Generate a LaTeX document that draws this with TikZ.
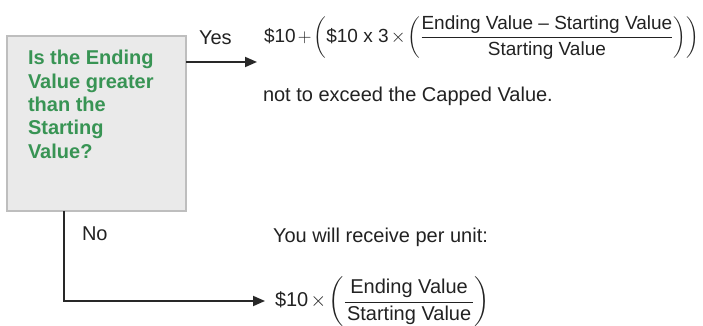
\RequirePackage{fix-cm}
\documentclass[tikz,border=0pt]{standalone}
\usepackage{amsmath}
\usepackage{fontspec}
\setmainfont{Liberation Sans}
\usetikzlibrary{arrows.meta}

\begin{document}
\begin{tikzpicture}[x=1pt,y=1pt,
  txt/.style={text=textColor,inner sep=0pt,outer sep=0pt,font=\fontsize{20}{23}\selectfont},
  formula/.style={txt,font=\fontsize{#1}{23}\selectfont},
  conn/.style={draw=lineColor,line width=1.8pt,-{Triangle[length=12pt,width=10pt]}}]
\definecolor{fillColor}{RGB}{255,255,255}
\definecolor{boxColor}{RGB}{234,234,234}
\definecolor{borderColor}{RGB}{190,190,190}
\definecolor{greenColor}{RGB}{56,148,84}
\definecolor{textColor}{RGB}{34,34,34}
\definecolor{lineColor}{RGB}{40,40,40}
\path[use as bounding box,fill=fillColor] (0,0) rectangle (703,326);

\node[draw=borderColor,fill=boxColor,line width=1.2pt,minimum width=179pt,minimum height=175pt,inner sep=0pt,outer sep=0pt] (question) at ( 96.50,202.50) {};

\node[txt,text=greenColor,font=\fontsize{20}{23.3}\selectfont\bfseries,align=left,anchor=north west] (questiontext) at ( 28.00,275.50) {Is the Ending\\Value greater\\than the\\Starting\\Value?};

\node[txt,anchor=base west] (yeslabel) at (199.00,281.00) {Yes};

\node[txt,anchor=base west] (nolabel) at ( 82.00, 85.00) {No};

\node[formula=19,anchor=base west] (yesformula) at (264.00,283.50) {$\medmuskip=2mu\relax\displaystyle \text{\$10} + \left(\text{\$10 x 3} \times \left(\frac{\text{Ending Value -- Starting Value}}{\text{Starting Value}}\right)\right)$};

\node[txt,anchor=base west] (capnote) at (263.00,224.00) {not to exceed the Capped Value.};

\node[txt,anchor=base west] (receivenote) at (273.00, 83.00) {You will receive per unit:};

\node[formula=20,anchor=base west] (noformula) at (275.00, 19.00) {$\medmuskip=2mu\relax\displaystyle \text{\$10} \times \left(\frac{\mkern2mu\text{Ending Value}\mkern2mu}{\mkern2mu\text{Starting Value}\mkern2mu}\right)$};

\coordinate (yesend) at (257.00,264.00);
\coordinate (nocorner) at ( 64.00, 25.00);
\coordinate (noend) at (265.00, 25.00);

\draw[conn] (question.east |- yesend) -- (yesend);

\draw[conn] (question.south -| nocorner) -- (nocorner) -- (noend);
\end{tikzpicture}
\end{document}
